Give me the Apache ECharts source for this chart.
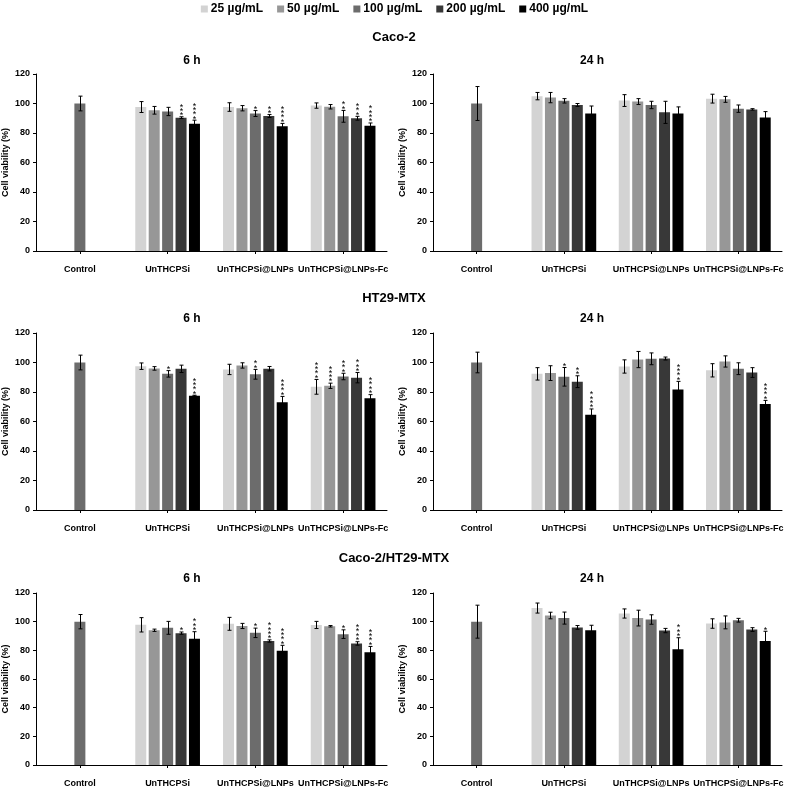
<!DOCTYPE html>
<html>
<head>
<meta charset="utf-8">
<script src="https://cdn.jsdelivr.net/npm/echarts@6/dist/echarts.min.js"></script>
<style>html,body{margin:0;padding:0;background:#fff}#c{width:789px;height:788px}</style>
</head>
<body>
<div id="c"></div>
<script>
// ---------- data ----------
const categories = ['Control', 'UnTHCPSi', 'UnTHCPSi@LNPs', 'UnTHCPSi@LNPs-Fc'];
const concentrations = ['25 µg/mL', '50 µg/mL', '100 µg/mL', '200 µg/mL', '400 µg/mL'];
const yTicks = [0, 20, 40, 60, 80, 100, 120];

// rows = UnTHCPSi, UnTHCPSi@LNPs, UnTHCPSi@LNPs-Fc ; columns = 25..400 µg/mL
const caco2_6h_control = [100, 5];
const caco2_6h_mean = [[97.6, 95.4, 94.6, 90.4, 86.3], [97.6, 96.8, 93.2, 91.5, 84.5], [98.6, 97.8, 91.3, 90, 85]];
const caco2_6h_err = [[3.7, 2.6, 2.8, 0.6, 2.4], [2.9, 1.8, 2, 1, 2], [1.8, 1.5, 4, 1.3, 1.8]];
const caco2_6h_stars = [[0, 0, 0, 3, 4], [0, 0, 1, 2, 4], [0, 0, 2, 3, 4]];

const caco2_24h_control = [100, 11.5];
const caco2_24h_mean = [[105, 104, 101.8, 99, 93.3], [102, 101.3, 99, 94, 93.2], [103.3, 102.8, 96.5, 96, 90.5]];
const caco2_24h_err = [[2.5, 3.5, 1.5, 1, 5], [4, 2, 2.5, 7.5, 4.5], [3, 2, 2.5, 0.5, 4]];
const caco2_24h_stars = [[0, 0, 0, 0, 0], [0, 0, 0, 0, 0], [0, 0, 0, 0, 0]];

const ht29_6h_control = [100, 5];
const ht29_6h_mean = [[97.5, 96, 92.3, 95.7, 77.5], [95.3, 98, 92, 95.8, 73], [83.5, 84.2, 90.5, 89.7, 75.7]];
const ht29_6h_err = [[2.2, 1.2, 2.2, 2.5, 0.3], [3.5, 1.8, 3.3, 1.5, 4], [5, 1.8, 2.2, 3.5, 2.5]];
const ht29_6h_stars = [[0, 0, 1, 0, 4], [0, 0, 2, 0, 4], [4, 4, 3, 3, 4]];

const ht29_24h_control = [100, 7];
const ht29_24h_mean = [[92.3, 92.8, 90.3, 87, 64.5], [97.3, 102, 102.5, 102.7, 81.7], [94.7, 100.7, 95.8, 93.2, 71.8]];
const ht29_24h_err = [[4.2, 5, 6.3, 4, 4], [4.5, 5.5, 4, 1, 5.5], [4.5, 3.8, 4, 3.3, 2.5]];
const ht29_24h_stars = [[0, 0, 1, 2, 4], [0, 0, 0, 0, 4], [0, 0, 0, 0, 4]];

const co_6h_control = [100, 5];
const co_6h_mean = [[97.8, 94, 95.7, 92, 88], [98.5, 97, 92.2, 86.5, 79.7], [97.7, 96.8, 91.3, 84.8, 78.7]];
const co_6h_err = [[5, 0.8, 4.5, 0.8, 5], [4.5, 1.8, 3.3, 0.8, 3.8], [2.5, 0.5, 3, 1.2, 4]];
const co_6h_stars = [[0, 0, 0, 1, 3], [0, 0, 1, 4, 4], [0, 0, 1, 4, 4]];

const co_24h_control = [100, 11.5];
const co_24h_mean = [[109.5, 104.3, 102.5, 96, 94], [105.7, 102.5, 101.5, 93.8, 80.8], [98.7, 99.5, 101, 94.5, 86.5]];
const co_24h_err = [[3.5, 2.3, 4.2, 1.3, 3.5], [3.2, 5.5, 3.3, 1.5, 8], [3.3, 4.5, 1.3, 1.3, 6.8]];
const co_24h_stars = [[0, 0, 0, 0, 0], [0, 0, 0, 0, 3], [0, 0, 0, 0, 1]];

// ---------- styling / layout ----------
const FONT = '"Liberation Sans", Arial, sans-serif';
const colors = ['#d3d3d3', '#979797', '#6c6c6c', '#383838', '#000000'];
const BAR_W = 11, BAR_GAP = 0.22;
const STEP = BAR_W * (1 + BAR_GAP);

const panels = [
  { control: caco2_6h_control, mean: caco2_6h_mean, err: caco2_6h_err, stars: caco2_6h_stars, grid: { left: 32, top: 74, width: 355, height: 177 } },
  { control: caco2_24h_control, mean: caco2_24h_mean, err: caco2_24h_err, stars: caco2_24h_stars, grid: { left: 433, top: 74, width: 349, height: 177 } },
  { control: ht29_6h_control, mean: ht29_6h_mean, err: ht29_6h_err, stars: ht29_6h_stars, grid: { left: 32, top: 333, width: 355, height: 177 } },
  { control: ht29_24h_control, mean: ht29_24h_mean, err: ht29_24h_err, stars: ht29_24h_stars, grid: { left: 433, top: 333, width: 349, height: 177 } },
  { control: co_6h_control, mean: co_6h_mean, err: co_6h_err, stars: co_6h_stars, grid: { left: 32, top: 593, width: 355, height: 179 } },
  { control: co_24h_control, mean: co_24h_mean, err: co_24h_err, stars: co_24h_stars, grid: { left: 433, top: 593, width: 349, height: 179 } }
];

function renderErr(params, api) {
  const cat = api.value(0), s = api.value(1), v = api.value(2), e = api.value(3), st = api.value(4);
  const off = (s - 2) * STEP;
  const pt = api.coord([cat, v + e]);
  const pb = api.coord([cat, v - e]);
  const x = Math.round(pt[0] + off) + 0.5;
  const children = [];
  if (e > 0) {
    const lw = { stroke: '#000', lineWidth: 1 };
    children.push({ type: 'line', shape: { x1: x, y1: pt[1], x2: x, y2: pb[1] }, style: lw });
    children.push({ type: 'line', shape: { x1: x - 2, y1: pt[1], x2: x + 2, y2: pt[1] }, style: lw });
    children.push({ type: 'line', shape: { x1: x - 2, y1: pb[1], x2: x + 2, y2: pb[1] }, style: lw });
  }
  if (st > 0) {
    children.push({
      type: 'text', x: x, y: pt[1] + 1,
      style: { text: new Array(st).fill('*').join('\n'), font: '9px ' + FONT, lineHeight: 4.3, fill: '#000', align: 'center', verticalAlign: 'bottom' }
    });
  }
  return { type: 'group', children: children };
}

const grids = [], xAxes = [], yAxes = [], series = [];
panels.forEach((p, pi) => {
  grids.push(p.grid);
  xAxes.push({
    type: 'category', data: categories, gridIndex: pi,
    axisLine: { lineStyle: { color: '#000', width: 1 } },
    axisTick: { show: true, alignWithLabel: true, length: 3, lineStyle: { color: '#000' } },
    axisLabel: { color: '#000', fontSize: 9, fontWeight: 'bold', fontFamily: FONT, margin: 14, interval: 0 }
  });
  yAxes.push({
    type: 'value', gridIndex: pi, min: 0, max: 120, interval: 20,
    name: 'Cell viability (%)', nameLocation: 'middle', nameGap: 26,
    nameTextStyle: { color: '#000', fontSize: 9, fontWeight: 'bold', fontFamily: FONT },
    axisLine: { show: true, lineStyle: { color: '#000', width: 1 } },
    axisTick: { show: true, length: 3, lineStyle: { color: '#000' } },
    splitLine: { show: false },
    axisLabel: { color: '#000', fontSize: 9, fontWeight: 'bold', fontFamily: FONT, margin: 6,
      formatter: v => yTicks.indexOf(v) >= 0 ? String(v) : '' }
  });
  const errData = [];
  concentrations.forEach((name, si) => {
    const data = [si === 2 ? p.control[0] : '-'];
    for (let g = 0; g < 3; g++) data.push(p.mean[g][si]);
    series.push({
      type: 'bar', name: name, xAxisIndex: pi, yAxisIndex: pi, data: data,
      barWidth: BAR_W, barGap: (BAR_GAP * 100) + '%',
      itemStyle: { color: colors[si] }, emphasis: { disabled: true }, silent: true
    });
    if (si === 2) errData.push([0, 2, p.control[0], p.control[1], 0]);
    for (let g = 0; g < 3; g++) errData.push([g + 1, si, p.mean[g][si], p.err[g][si], p.stars[g][si]]);
  });
  series.push({
    type: 'custom', name: 'err' + pi, xAxisIndex: pi, yAxisIndex: pi, data: errData,
    renderItem: renderErr, encode: { x: 0, y: 2 }, z: 10, silent: true
  });
});

const titleStyle = (size) => ({ color: '#000', fontSize: size, fontWeight: 'bold', fontFamily: FONT });
const titles = [
  { text: 'Caco-2', left: 394, top: 31, textAlign: 'center', textStyle: titleStyle(13) },
  { text: '6 h', left: 192, top: 55, textAlign: 'center', textStyle: titleStyle(12) },
  { text: '24 h', left: 592, top: 55, textAlign: 'center', textStyle: titleStyle(12) },
  { text: 'HT29-MTX', left: 394, top: 292, textAlign: 'center', textStyle: titleStyle(13) },
  { text: '6 h', left: 192, top: 313, textAlign: 'center', textStyle: titleStyle(12) },
  { text: '24 h', left: 592, top: 313, textAlign: 'center', textStyle: titleStyle(12) },
  { text: 'Caco-2/HT29-MTX', left: 394, top: 552, textAlign: 'center', textStyle: titleStyle(13) },
  { text: '6 h', left: 192, top: 573, textAlign: 'center', textStyle: titleStyle(12) },
  { text: '24 h', left: 592, top: 573, textAlign: 'center', textStyle: titleStyle(12) }
];
titles.forEach(t => { t.padding = 0; });

const chart = echarts.init(document.getElementById('c'), null, { renderer: 'canvas' });
chart.setOption({
  backgroundColor: '#fff',
  animation: false,
  title: titles,
  legend: {
    data: concentrations, top: 3, left: 'center', padding: 0, icon: 'rect', itemWidth: 7, itemHeight: 7, itemGap: 14,
    textStyle: { color: '#000', fontSize: 12, fontWeight: 'bold', fontFamily: FONT, padding: [0, 0, 0, -2] }
  },
  grid: grids,
  xAxis: xAxes,
  yAxis: yAxes,
  series: series
});
</script>
</body>
</html>
